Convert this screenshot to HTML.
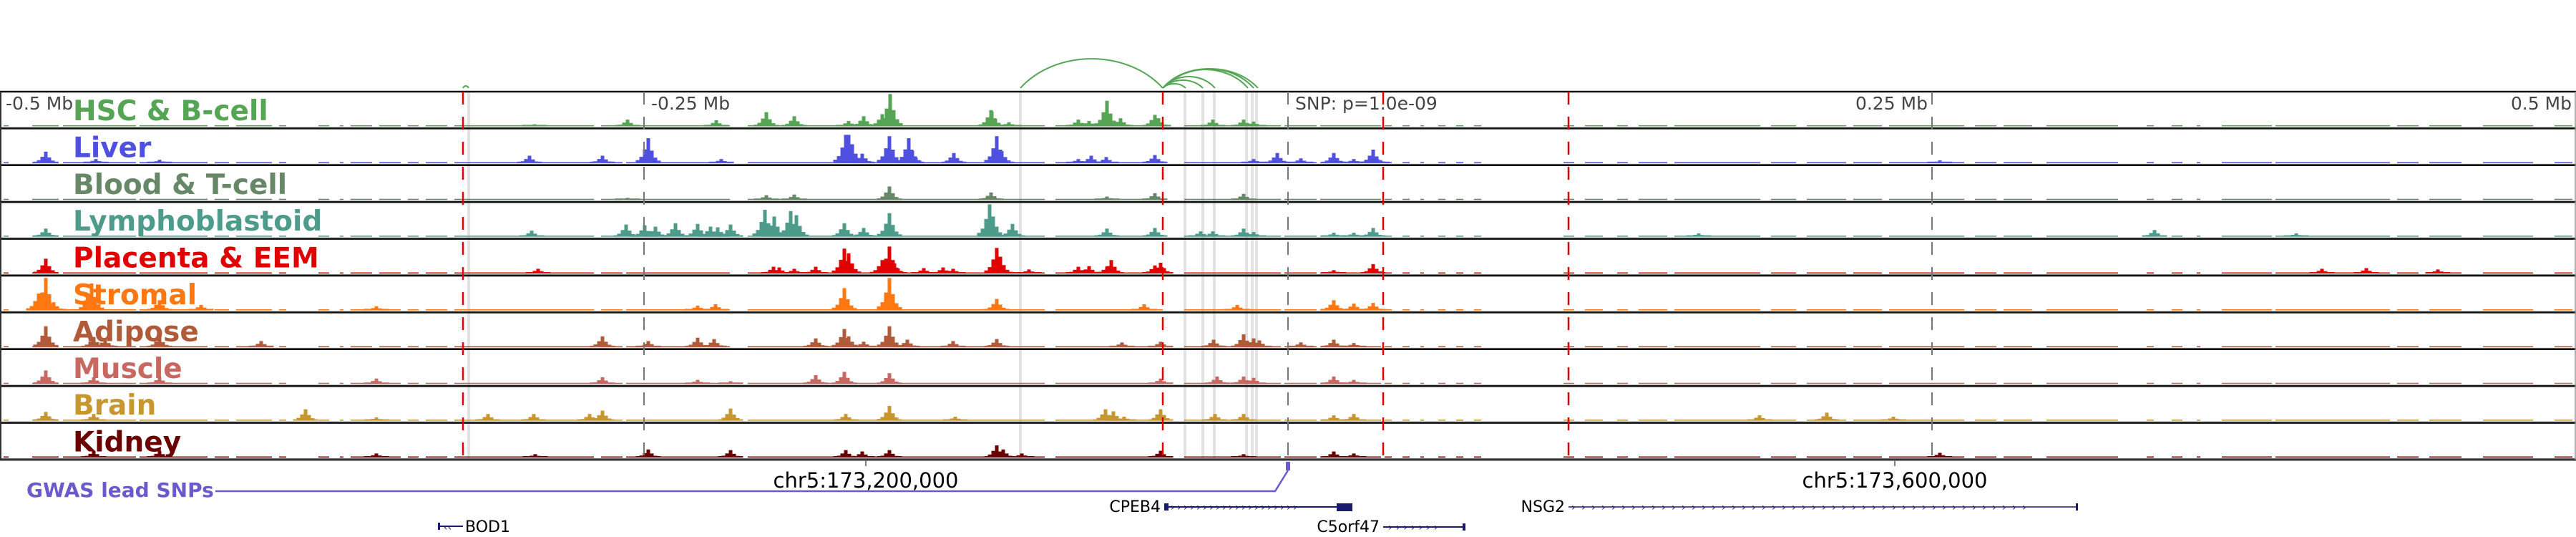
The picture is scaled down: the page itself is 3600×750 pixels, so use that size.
<!DOCTYPE html>
<html><head><meta charset="utf-8"><title>Epigenome tracks chr5</title>
<style>
html,body{margin:0;padding:0;background:#fff;width:3600px;height:750px;overflow:hidden}
svg{display:block}
</style></head>
<body>
<svg id="chart" xmlns="http://www.w3.org/2000/svg" width="3600" height="750" viewBox="0 0 3600 750" font-family="'DejaVu Sans','Liberation Sans',sans-serif"></svg>
<script>
// ---- data (positions in genomic bins across the 1 Mb window: 0..3600, 1 bin ~ 278 bp) ----
const trackNames = ["HSC & B-cell","Liver","Blood & T-cell","Lymphoblastoid","Placenta & EEM","Stromal","Adipose","Muscle","Brain","Kidney"];
const trackColors = ["#55a555","#5050e0","#668866","#4d9b8a","#e00000","#ff7711","#b05a3a","#c86860","#c8962e","#6b0000"];
const peaksHSC = [[747,3],[877,10],[1001,9],[1071,21],[1110,15],[1186,8],[1207,15],[1233,18],[1244,48],[1385,24],[1386,22],[1410,6],[1507,10],[1522,8],[1547,38],[1566,12],[1614,17],[1619,12],[1695,10],[1738,10],[1752,7]];
const peaksLiver = [[64,17],[134,6],[223,5],[740,11],[842,11],[906,37],[1008,6],[1182,42],[1186,42],[1191,28],[1205,14],[1243,40],[1270,37],[1274,20],[1333,15],[1393,40],[1400,18],[1507,6],[1525,11],[1546,9],[1614,12],[1752,6],[1785,15],[1818,7],[1864,15],[1892,6],[1919,20],[1925,6],[2711,4]];
const peaksBlood = [[877,3],[1071,7],[1110,8],[1243,20],[1385,11],[1547,5],[1614,10],[1738,9]];
const peaksLympho = [[64,12],[743,9],[875,18],[901,17],[916,15],[944,20],[975,19],[993,15],[1003,14],[1021,18],[1069,40],[1082,30],[1105,38],[1113,32],[1180,20],[1207,13],[1243,35],[1383,48],[1388,30],[1415,19],[1547,12],[1614,13],[1678,8],[1695,8],[1738,12],[1752,7],[1864,6],[1892,6],[1919,13],[2374,5],[3011,10],[3209,5]];
const peaksPlacenta = [[64,22],[752,7],[1081,10],[1089,9],[1110,7],[1140,10],[1180,37],[1186,30],[1233,20],[1243,40],[1250,15],[1291,8],[1318,9],[1332,7],[1393,38],[1398,25],[1402,10],[1438,6],[1507,10],[1522,11],[1547,10],[1553,20],[1614,12],[1622,16],[1864,5],[1919,14],[3245,7],[3307,8],[3407,6]];
const peaksStromal = [[54,25],[64,48],[75,12],[128,40],[223,15],[281,8],[526,6],[975,7],[1000,9],[1180,33],[1243,48],[1393,17],[1599,9],[1729,8],[1864,15],[1892,10],[1919,11]];
const peaksAdipose = [[64,31],[131,15],[147,12],[223,15],[365,9],[842,16],[906,9],[975,14],[998,12],[1140,13],[1180,27],[1186,16],[1207,8],[1243,31],[1268,11],[1332,9],[1393,12],[1568,7],[1622,8],[1696,11],[1738,19],[1752,13],[1760,10],[1818,7],[1864,11],[1892,6]];
const peaksMuscle = [[64,20],[131,10],[223,10],[526,8],[842,10],[975,6],[1021,4],[1140,13],[1180,18],[1243,16],[1622,8],[1701,11],[1738,11],[1752,9],[1864,11],[1892,6]];
const peaksBrain = [[64,13],[131,10],[427,17],[526,5],[682,10],[746,10],[824,10],[842,15],[1021,18],[1182,10],[1243,22],[1335,6],[1545,17],[1556,14],[1571,6],[1622,17],[1698,10],[1738,10],[1864,8],[1892,10],[2459,8],[2553,12],[2646,6]];
const peaksKidney = [[131,10],[223,10],[526,6],[748,5],[906,12],[1021,11],[1182,11],[1205,9],[1243,11],[1393,18],[1402,12],[1428,6],[1622,10],[1738,5],[1864,9],[1892,6],[2711,7]];
const coverage = [[5,12],[45,82],[88,190],[195,290],[300,320],[330,380],[390,400],[445,460],[475,480],[490,520],[530,560],[570,585],[595,625],[635,830],[840,870],[875,1020],[1045,1460],[1475,1625],[1655,1790],[1795,1840],[1845,1930],[1935,1945],[1960,1970],[1985,1990],[2010,2020],[2035,2045],[2060,2070],[2185,2200],[2215,2240],[2260,2275],[2290,2330],[2340,2460],[2475,2510],[2525,2580],[2590,2630],[2640,2745],[2760,2790],[2800,2840],[2860,2960],[3000,3010],[3035,3050],[3070,3075],[3105,3175],[3180,3340],[3350,3380],[3395,3440],[3470,3540],[3570,3595]];
const eqtlLines = [647,1625,1933,2192];
const highlights = [655,1426,1656,1681,1697,1742,1750,1756];
const loopAnchors = [[1426,1625],[1625,1657],[1625,1681],[1625,1698],[1625,1744],[1625,1752],[1625,1758],[647,655]];
const loopScores = [41,6,11,16,26,27,27,3];
const tickPos = [0,900,1800,2700,3600];
const tickLabels = ["-0.5 Mb","-0.25 Mb","SNP: p=1.0e-09","0.25 Mb","0.5 Mb"];
const coordPos = [1210,2648];
const coordLabels = ["chr5:173,200,000","chr5:173,600,000"];
const allPeaks = [peaksHSC,peaksLiver,peaksBlood,peaksLympho,peaksPlacenta,peaksStromal,peaksAdipose,peaksMuscle,peaksBrain,peaksKidney];

// ---- layout ----
const W = 3600, top0 = 128, trackH = 51.4, nT = trackNames.length;
const bottom = top0 + trackH*nT;
const x = b => b * (W/3600);
const hScale = v => v * 0.94;
const NS = "http://www.w3.org/2000/svg";
const svg = document.getElementById('chart');
function mk(tag, attrs, parent){ const e=document.createElementNS(NS,tag); for(const k in attrs) e.setAttribute(k,attrs[k]); (parent||svg).appendChild(e); return e; }

const gH = mk('g',{});


highlights.forEach(b=>{
  const r = mk('rect',{x:x(b)-2,y:top0,width:4,height:bottom-top0,fill:'#e2e2e2'},gH);
  
  
});

for(let i=0;i<nT;i++){
  const t = top0 + i*trackH, base = t + trackH - 3;
  const g = mk('g',{});
  
  
  coverage.forEach(s=>{
    const r = mk('rect',{x:x(s[0]),y:base-1.5,width:x(s[1])-x(s[0]),height:1.5,fill:trackColors[i]},g);
    
    
  });
  allPeaks[i].forEach(p=>{
    const c=x(p[0]), h=hScale(p[1]);
    const shoulders=[[-15,0.12],[-10,0.25],[-5,0.55],[5,0.5],[10,0.22],[15,0.1]];
    shoulders.forEach(s=>{
      const sh=Math.max(2,h*s[1]);
      const r=mk('rect',{x:c+s[0]-2.5,y:base-sh,width:5,height:sh,fill:trackColors[i]},g);
      
      
    });
    const r=mk('rect',{x:c-2.5,y:base-h,width:5,height:h,fill:trackColors[i]},g);
    
    
  });
  const sep = mk('line',{x1:0,x2:W,y1:t,y2:t,stroke:'#111','stroke-width':2.5},g);
  
  
  const bl = mk('line',{x1:0,x2:W,y1:t+trackH-1.5,y2:t+trackH-1.5,stroke:'#999','stroke-width':1},g);
  
  
  const lab = mk('text',{x:102,y:t+40,fill:trackColors[i],'font-size':39,'font-weight':'bold'},g);
  lab.textContent = trackNames[i];
  
  
}
const bot = mk('line',{x1:0,x2:W,y1:bottom,y2:bottom,stroke:'#333','stroke-width':3});


const lb = mk('line',{x1:1,x2:1,y1:top0,y2:bottom,stroke:'#333','stroke-width':2});


const rb = mk('line',{x1:W-1,x2:W-1,y1:top0,y2:bottom,stroke:'#999','stroke-width':1.5});



tickPos.forEach((b,i)=>{
  if(i>0 && i<tickPos.length-1){
    const l=mk('line',{x1:x(b),x2:x(b),y1:top0,y2:bottom,stroke:'#777','stroke-width':2,'stroke-dasharray':'18 17'});
    
    
  }
  const right = (i>=3);
  const tx = i==0 ? 8 : (right ? x(b)-6 : x(b)+10);
  const t=mk('text',{x:tx,y:153,fill:'#444','font-size':25,'text-anchor':right?'end':'start'});
  t.textContent=tickLabels[i];
  
  
});
eqtlLines.forEach(b=>{
  const l=mk('line',{x1:x(b),x2:x(b),y1:top0,y2:bottom,stroke:'#e00000','stroke-width':2.5,'stroke-dasharray':'18 17'});
  
  
});
loopAnchors.forEach((a,i)=>{
  const x1=x(a[0]), x2=x(a[1]), base=123, hgt=loopScores[i];
  const p=mk('path',{d:`M${x1},${base} C${x1+(x2-x1)*0.25},${base-hgt*1.33} ${x1+(x2-x1)*0.75},${base-hgt*1.33} ${x2},${base}`,fill:'none',stroke:'#55a555','stroke-width':2});
  
  
});
coordPos.forEach((b,i)=>{
  const l=mk('line',{x1:x(b),x2:x(b),y1:bottom,y2:bottom+9,stroke:'#555','stroke-width':1.5});
  
  
  const t=mk('text',{x:x(b),y:681,fill:'#000','font-size':29,'text-anchor':'middle'});
  t.textContent=coordLabels[i];
  
  
});
</script>
<svg style="position:absolute;left:0;top:0" width="3600" height="750" font-family="'DejaVu Sans','Liberation Sans',sans-serif">
  <g>
    <text x="37" y="694" fill="#6a5acd" font-size="28" font-weight="bold">GWAS lead SNPs</text>
    <polyline points="301,686 1782,686 1800,657" fill="none" stroke="#6a5acd" stroke-width="2.5"/>
    <rect x="1797" y="645" width="6" height="12" fill="#6a5acd"/>
  </g>
  <g font-size="22" fill="#000">
    <g>
      <line x1="612" y1="735" x2="647" y2="735" stroke="#1a1a6e" stroke-width="2"/>
      <rect x="612" y="730" width="3" height="10" fill="#1a1a6e"/>
      <text x="620" y="741" fill="#1a1a6e" font-size="14">‹‹</text>
      <text x="650" y="743">BOD1</text>
    </g>
    <g>
      <text x="1622" y="715" text-anchor="end">CPEB4</text>
      <line x1="1627" y1="708" x2="1870" y2="708" stroke="#1a1a6e" stroke-width="2"/>
      <rect x="1627" y="703" width="6" height="10" fill="#1a1a6e"/>
      <text x="1636" y="713" fill="#1a1a6e" font-size="14" letter-spacing="3.4">››››››››››››››››››››</text>
      <rect x="1868" y="703" width="22" height="11" fill="#1a1a6e"/>
    </g>
    <g>
      <text x="1928" y="743" text-anchor="end">C5orf47</text>
      <line x1="1933" y1="736" x2="2048" y2="736" stroke="#1a1a6e" stroke-width="2"/>
      <text x="1940" y="741" fill="#1a1a6e" font-size="14" letter-spacing="5">›››››››</text>
      <rect x="2044" y="731" width="4" height="10" fill="#1a1a6e"/>
    </g>
    <g>
      <text x="2187" y="715" text-anchor="end">NSG2</text>
      <line x1="2192" y1="708" x2="2903" y2="708" stroke="#1a1a6e" stroke-width="1.5"/>
      <text x="2196" y="713" fill="#1a1a6e" font-size="14" letter-spacing="8.4">››››››››››››››››››››››››››››››››››››››››››››››</text>
      <rect x="2901" y="703" width="3" height="10" fill="#1a1a6e"/>
    </g>
  </g>
</svg>
</body></html>
